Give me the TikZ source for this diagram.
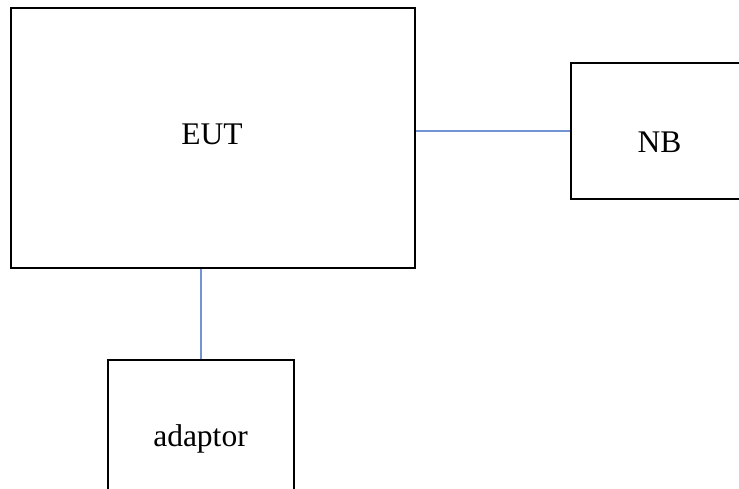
\documentclass[tikz,border=0pt]{standalone}
\usepackage{fontspec}
\setmainfont{Liberation Serif}
\definecolor{linkblue}{RGB}{114,148,210}
\begin{document}
\begin{tikzpicture}[x=1pt,y=-1pt,
  boxst/.style={draw=black,line width=1.8pt,inner sep=0pt,fill=none},
  lbl/.style={font=\fontsize{31.5}{38}\selectfont,inner sep=0pt,anchor=base},
  link/.style={draw=linkblue,line width=1.4pt}]
\useasboundingbox (0,0) rectangle (739,489);
\clip (0,0) rectangle (739,489);
\node[boxst,minimum width=404pt,minimum height=260pt] (eut) at (213,138) {};
\node[boxst,minimum width=177pt,minimum height=136pt] (nb) at (659.5,131) {};
\node[boxst,minimum width=186pt,minimum height=150pt] (adaptor) at (201,435) {};
\node[lbl] (eutlbl) at (212,145) {EUT};
\node[lbl] (nblbl) at (659.5,153) {NB};
\node[lbl] (adlbl) at (200.5,446) {adaptor};
\draw[link] (eut.east |- nb.west) -- (nb.west);
\draw[link] (adaptor.north) -- (adaptor.north |- eut.south);
\end{tikzpicture}
\end{document}
